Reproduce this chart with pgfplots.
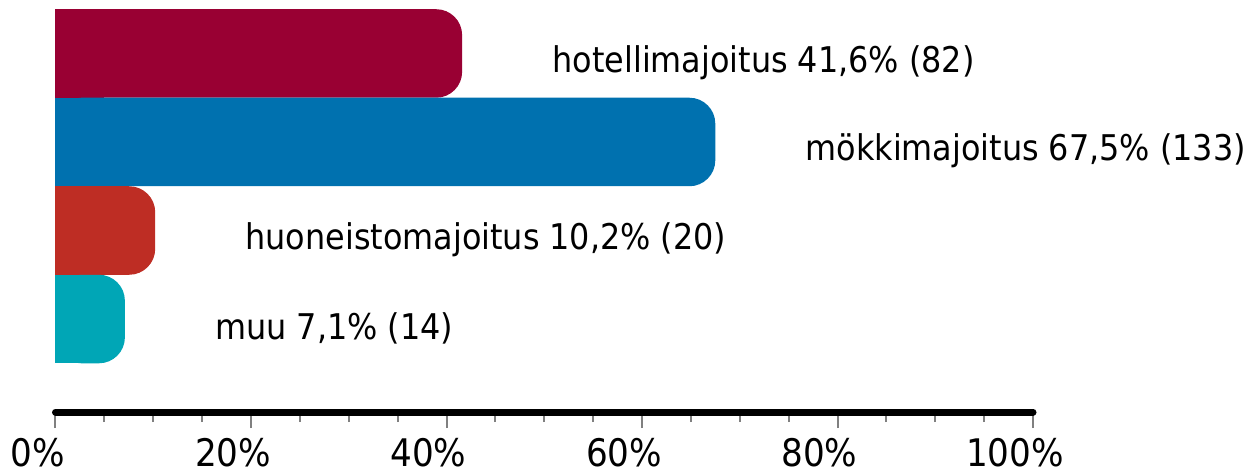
\documentclass[border=0pt]{standalone}
\usepackage{pgfplots}
\pgfplotsset{compat=1.18}
\usepackage{fontspec}
\setmainfont{DejaVu Sans Condensed}
\definecolor{cHotel}{HTML}{990033}
\definecolor{cMokki}{HTML}{0071AF}
\definecolor{cHuone}{HTML}{BE2D24}
\definecolor{cMuu}{HTML}{00A6B6}
\pgfplotsset{
  rbar/.style={fill=#1, draw=none, bar shift=0pt, rounded corners=13pt,
    nodes near coords, point meta=explicit symbolic,
    nodes near coords style={anchor=west, inner sep=0pt, xshift=45pt, yshift=-4.5pt,
      text=black, font=\fontsize{17.7}{21}\selectfont}},
  % square left end: same bar cut short, no rounding
  sbar/.style={fill=#1, draw=none, bar shift=0pt, sharp corners,
    x filter/.expression={min(x,5)}},
}
\begin{document}
\begin{tikzpicture}
\begin{axis}[
  scale only axis, width=488.75pt, height=201.4pt,
  xbar, bar width=1, bar shift=0pt,
  xmin=0, xmax=100, ymin=-0.5, ymax=4.05, y dir=reverse,
  axis x line*=bottom, axis y line=none,
  xtick={0,20,...,100}, minor x tick num=3,
  tick align=outside, major tick length=8pt, minor tick length=5pt,
  xtick style={gray, line width=1pt},
  x axis line style={line width=3.5pt, line cap=round, -},
  xticklabel={\pgfmathprintnumber{\tick}\%},
  /pgf/number format/assume math mode=true,
  xticklabel style={font=\fontsize{19}{22}\selectfont, inner sep=0pt, xshift=-9pt, yshift=-5pt},
  clip=false,
]
\addplot[rbar=cHotel] coordinates {(41.6,0) [hotellimajoitus 41,6\% (82)]};
\addplot[sbar=cHotel] coordinates {(41.6,0)};
\addplot[rbar=cMokki] coordinates {(67.5,1) [mökkimajoitus 67,5\% (133)]};
\addplot[sbar=cMokki] coordinates {(67.5,1)};
\addplot[rbar=cHuone] coordinates {(10.2,2) [huoneistomajoitus 10,2\% (20)]};
\addplot[sbar=cHuone] coordinates {(10.2,2)};
\addplot[rbar=cMuu] coordinates {(7.1,3) [muu 7,1\% (14)]};
\addplot[sbar=cMuu] coordinates {(7.1,3)};
\coordinate (O) at (axis cs:0,4.05);
\end{axis}
\pgfresetboundingbox
\path[use as bounding box] ([xshift=-27.75pt, yshift=-31.5pt]O) rectangle ([xshift=595.75pt, yshift=206pt]O);
\end{tikzpicture}
\end{document}
